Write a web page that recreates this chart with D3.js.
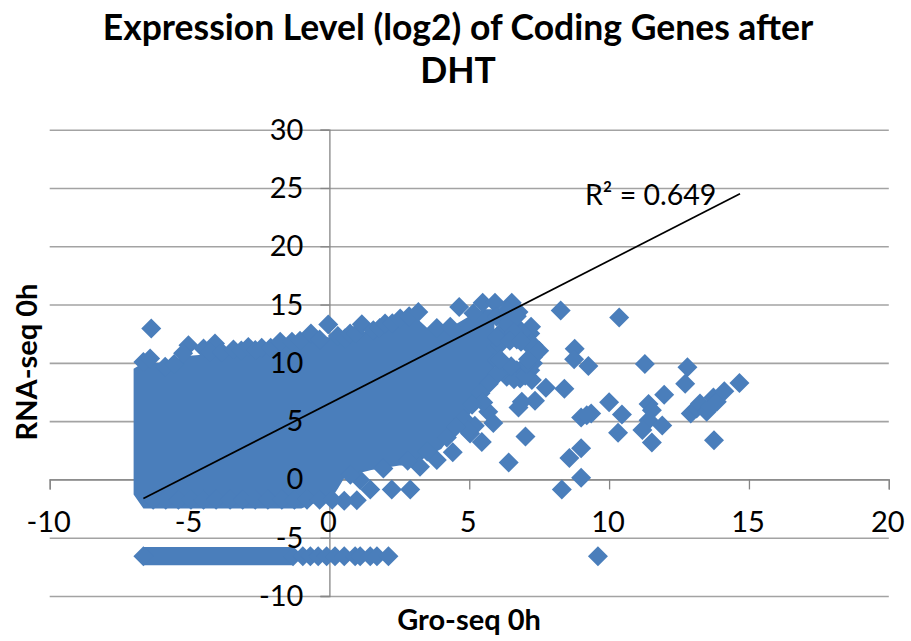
<!DOCTYPE html>
<html>
<head>
<meta charset="utf-8">
<script src="https://cdn.jsdelivr.net/npm/d3@7"></script>
<style>
  html, body { margin: 0; padding: 0; background: #fff; }
  svg { display: block; }
  text { font-family: Lato, "Open Sans", sans-serif; fill: #000; }
</style>
</head>
<body>
<svg id="chart" width="911" height="641"></svg>
<script>
// Values (x = Gro-seq 0h, y = RNA-seq 0h)
const xTicks = [-10, -5, 0, 5, 10, 15, 20];
const yTicks = [-10, -5, 0, 5, 10, 15, 20, 25, 30];
const titleLines = ["Expression Level (log2) of Coding Genes after", "DHT"];
const trendLine = [[-6.65, -1.63], [14.68, 24.5]];

// Core of the cloud, too dense to tell single points apart
const coreX =      [-7, -6.65, -6, -5, -4, -3, -2, -1, -0.5, 0, 0.3, 0.6, 1, 1.5, 2, 2.5, 3, 3.5, 4, 4.5, 5, 5.5, 5.9];
const coreTop =    [9.5, 10, 10, 10.6, 10.8, 11.2, 11.3, 11.9, 12.2, 12.2, 12.2, 12.2, 12.5, 12.8, 13.2, 13.7, 14.1, 13, 13.1, 13.3, 14, 14.6, 14.6];
const coreBottom = [-1.3, -2.5, -2.5, -2.5, -2.5, -2.5, -2.5, -2.5, -2, -1.9, -0.8, 0.4, 0.5, 0.8, 1, 1.2, 1.2, 2, 2.6, 4.2, 5.5, 7.4, 8.3];

// Points on the rim of the cloud
const upperRim = [[-6.37, 12.95], [-6.65, 10.08], [-6.41, 10.38], [-5.87, 9.66], [-5.55, 9.9], [-5.04, 11.52], [-5.23, 10.83], [-4.5, 11.23],
  [-4.09, 11.66], [-4.27, 10.94], [-3.85, 10.9], [-3.43, 11.15], [-3.15, 11.05], [-2.9, 11.37], [-2.65, 11.1], [-2.42, 11.29], [-2.1, 11.3],
  [-1.76, 11.8], [-1.34, 11.8], [-1.05, 11.9], [-0.66, 12.52], [-0.35, 12], [-0.04, 13.3], [0.3, 12.3], [0.56, 12.1], [0.74, 12.52],
  [0.95, 12.5], [1.16, 13.32], [1.57, 12.8], [1.8, 13], [1.99, 13.38], [2.25, 13.4], [2.53, 13.8], [2.85, 14], [3.18, 14.37],
  [3.84, 13], [4.32, 13.1], [4.64, 14.8], [5.15, 14.26], [5.48, 15.15], [5.92, 15.15], [6.52, 15.15], [6.76, 14.37]];
const rightRim = [[6.58, 13.38], [6.34, 12.23], [6.82, 12.8], [7.18, 12.52], [7.21, 13.09], [7, 12.23], [6.7, 12], [7.1, 11.6], [7.3, 11.52],
  [7.5, 11.03], [5.98, 10.23], [6.34, 9.37], [6.7, 9.37], [7.18, 9.37], [7.28, 9.97], [6.82, 8.66], [6.34, 8.8], [7.24, 8.52],
  [7.28, 10.5], [5.98, 11.37], [6.1, 11.6], [6.21, 12.8], [5.98, 13.95], [6.34, 14.5], [5.98, 12.2], [6.35, 13.4], [6.7, 14], [6.9, 12.6],
  [6.6, 12.6], [6, 9], [6.6, 8.6], [7, 8.9], [7.05, 9.9], [5.7, 8.2], [6.5, 9.7], [7.1, 10.3], [6.1, 10.3], [6.45, 11.9], [6.85, 11.8]];
const lowerRim = [[5.68, 5.8], [5.86, 4.85], [5.45, 3.22], [5.03, 3.94], [4.41, 2.34], [3.84, 1.66], [3.24, 1.08], [1.93, 0.94],
  [1.46, -0.86], [2.23, -0.86], [2.89, -0.86], [0.98, -1.78], [0.53, -1.83], [1.1, -0.06], [0.75, 0.4],
  [5.4, 7.4], [5.5, 6.6], [5.1, 6.4], [5.2, 4.6], [4.8, 5.2], [4.95, 4.2], [4.5, 4.5], [4.2, 3.6], [3.5, 2.4], [2.8, 1.6]];
const bottomEdgeX = [-6.3, -5.85, -5.4, -4.95, -4.5, -4.05, -3.55, -3.1, -2.65, -2.2, -1.7, -1.25, -0.8, -0.35, 0.1];

// Genes with no RNA-seq signal sit in one row: solid band, then single points
const floorY = -6.58;
const floorBandX = [-6.65, -1.3];
const floorBandHalf = 0.78;
const floorX = [-6.65, -1.3, -0.95, -0.68, -0.4, -0.1, 0.2, 0.53, 0.92, 1.1, 1.46, 1.7, 2.11];

// Isolated points to the right of the cloud
const outliers = [[8.27, 14.5], [10.36, 13.9], [8.77, 11.2], [8.75, 10.3], [9.26, 9.74], [11.28, 9.9], [12.8, 9.63], [12.72, 8.2],
  [14.66, 8.28], [8.4, 7.77], [7.74, 7.86], [7.35, 6.74], [6.88, 6.66], [6.76, 6.17], [10, 6.63], [11.97, 7.26], [11.41, 6.46],
  [11.53, 5.94], [11.41, 5.08], [10.46, 5.57], [9, 5.32], [9.36, 5.66], [9.2, 5.51], [11.9, 4.63], [11.19, 4.23], [10.32, 4],
  [11.53, 3.17], [13.75, 3.37], [7.01, 3.69], [9, 2.68], [8.58, 1.83], [9, 0.14], [8.31, -0.86], [6.41, 1.46], [9.6, -6.6],
  [12.92, 5.66], [13.13, 6.09], [13.25, 6.52], [13.49, 5.8], [13.61, 6.23], [13.73, 7.03], [13.85, 6.66], [14.12, 7.57]];

const blue = "#4a7ebb";
const grey = "#a3a3a3";

const svg = d3.select("#chart");
const x = d3.scaleLinear().domain([-10, 20]).range([49.7, 888.8]);
const y = d3.scaleLinear().domain([-10, 30]).range([596, 129.7]);

// Excel style marker: a square stood on its corner
const diamond = {
  draw(ctx, size) {
    const r = Math.sqrt(size / 2);
    ctx.moveTo(0, -r);
    ctx.lineTo(r, 0);
    ctx.lineTo(0, r);
    ctx.lineTo(-r, 0);
    ctx.closePath();
  }
};
const marker = d3.symbol().type(diamond).size(200);

// Gridlines
svg.append("g")
  .attr("transform", `translate(${x(-10)},0)`)
  .call(d3.axisRight(y).tickValues(yTicks).tickSize(x(20) - x(-10)).tickFormat(""))
  .call(g => g.select(".domain").remove())
  .call(g => g.selectAll("line").attr("stroke", grey).attr("stroke-width", 1.6));

// Axes lines and tick marks
const yAxisLine = svg.append("g")
  .attr("transform", `translate(${x(0)},0)`)
  .call(d3.axisLeft(y).tickValues(yTicks).tickSize(9).tickFormat(""));
const xAxisLine = svg.append("g")
  .attr("transform", `translate(0,${y(0)})`)
  .call(d3.axisBottom(x).tickValues(xTicks).tickSize(10).tickFormat(""));
[yAxisLine, xAxisLine].forEach(g => {
  g.selectAll("line, path").attr("stroke", "#868686").attr("stroke-width", 1.3);
});

// Cloud
const cloud = d3.area()
  .x((d, i) => x(coreX[i]))
  .y0((d, i) => y(coreBottom[i]))
  .y1((d, i) => y(coreTop[i]));
svg.append("path").attr("d", cloud(coreX)).attr("fill", blue);

const floorBand = d3.area()
  .x(d => x(d))
  .y0(y(floorY - floorBandHalf))
  .y1(y(floorY + floorBandHalf));
svg.append("path").attr("d", floorBand(floorBandX)).attr("fill", blue);

const allPoints = [
  ...upperRim, ...rightRim, ...lowerRim, ...outliers,
  ...bottomEdgeX.map(v => [v, -1.75]),
  ...floorX.map(v => [v, floorY])
];
svg.append("g").selectAll("path")
  .data(allPoints)
  .enter().append("path")
  .attr("d", marker)
  .attr("transform", d => `translate(${x(d[0])},${y(d[1])})`)
  .attr("fill", blue);

// Trend line
svg.append("line")
  .attr("x1", x(trendLine[0][0])).attr("y1", y(trendLine[0][1]))
  .attr("x2", x(trendLine[1][0])).attr("y2", y(trendLine[1][1]))
  .attr("stroke", "#000").attr("stroke-width", 1.7);

// Tick labels go over the points
svg.append("g").selectAll("text")
  .data(yTicks)
  .enter().append("text")
  .attr("x", x(0) - 26)
  .attr("y", d => y(d) + 10)
  .attr("text-anchor", "end")
  .attr("font-size", 29)
  .text(d => d);
svg.append("g").selectAll("text")
  .data(xTicks)
  .enter().append("text")
  .attr("x", d => x(d) - 1)
  .attr("y", y(0) + 53)
  .attr("text-anchor", "middle")
  .attr("font-size", 29)
  .text(d => d);

// Titles
svg.append("g").selectAll("text")
  .data(titleLines)
  .enter().append("text")
  .attr("x", 458)
  .attr("y", (d, i) => 40 + i * 43)
  .attr("text-anchor", "middle")
  .attr("font-size", 35.5)
  .attr("font-weight", 700)
  .text(d => d);

svg.append("text")
  .attr("x", 469).attr("y", 630)
  .attr("text-anchor", "middle")
  .attr("font-size", 29).attr("font-weight", 700)
  .text("Gro-seq 0h");

svg.append("text")
  .attr("transform", "translate(37,362) rotate(-90)")
  .attr("text-anchor", "middle")
  .attr("font-size", 29).attr("font-weight", 700)
  .text("RNA-seq 0h");

svg.append("text")
  .attr("x", 585).attr("y", 205)
  .attr("font-size", 28.5)
  .text("R² = 0.649");
</script>
</body>
</html>
